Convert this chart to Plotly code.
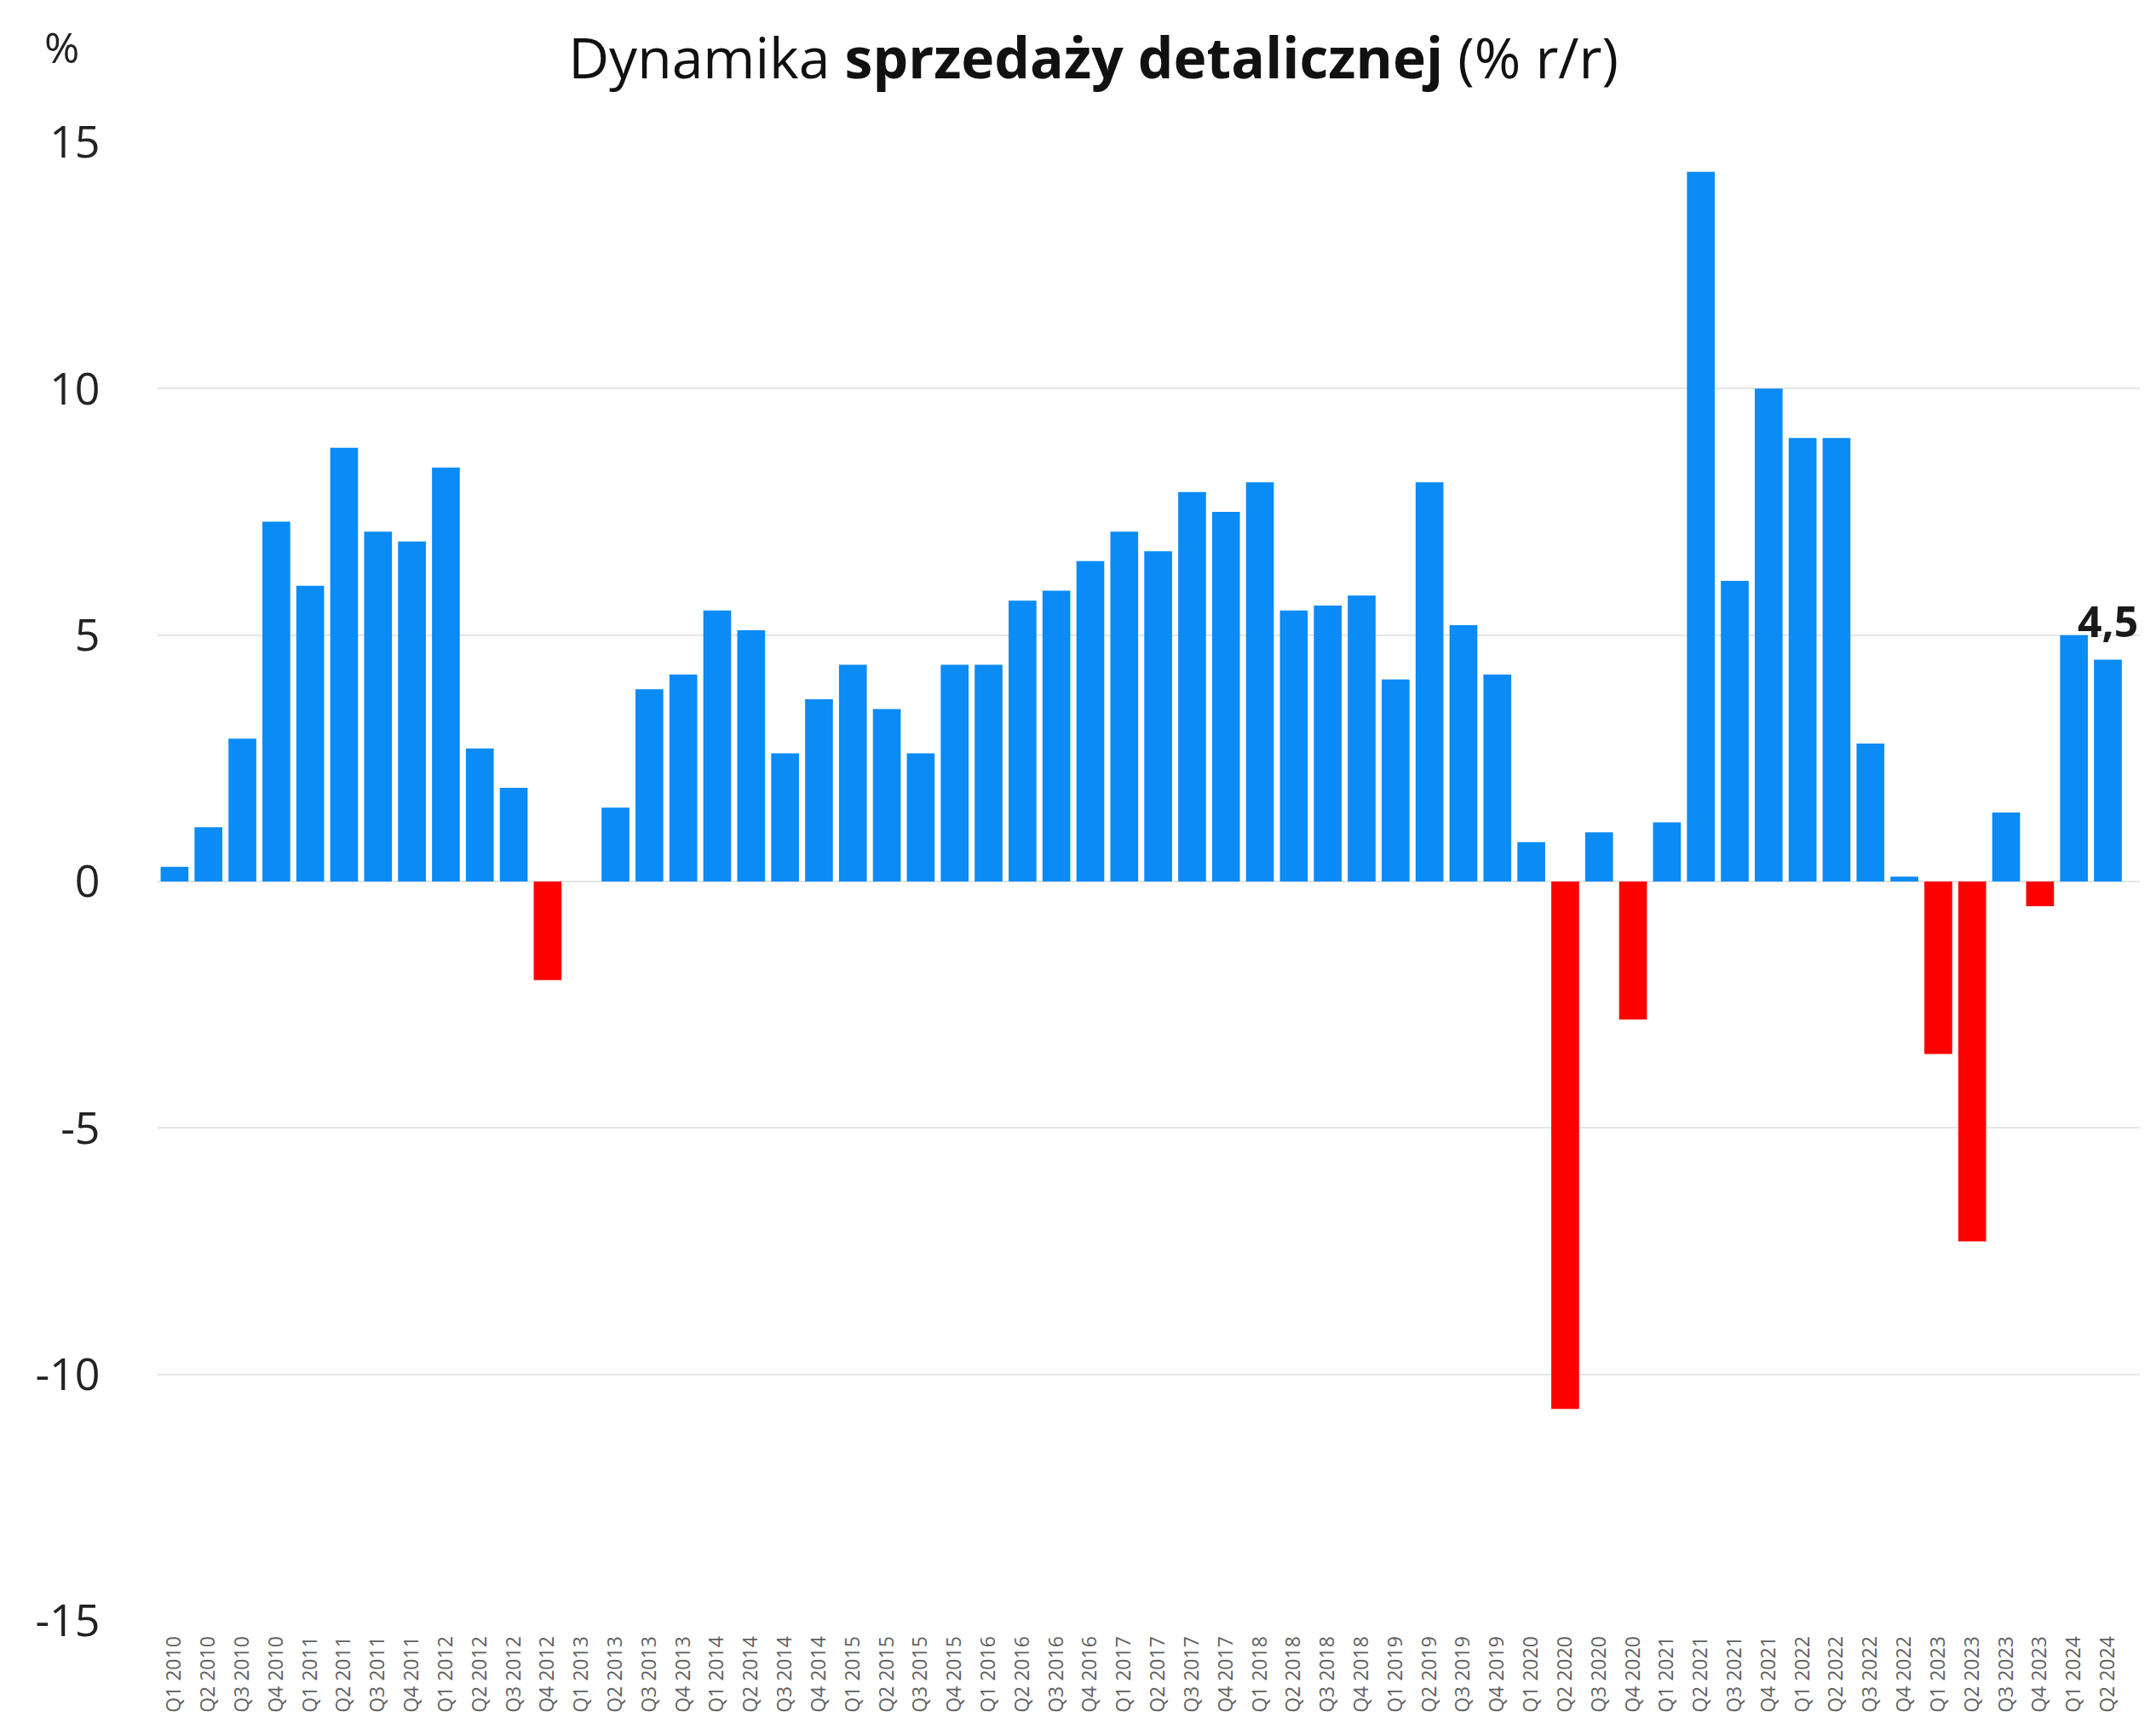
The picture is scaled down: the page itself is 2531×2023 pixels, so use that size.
import plotly.graph_objects as go

quarters = [f"Q{q} {y}" for y in range(2010, 2025) for q in range(1, 5)][:58]
values = [0.3, 1.1, 2.9, 7.3,
          6.0, 8.8, 7.1, 6.9,
          8.4, 2.7, 1.9, -2.0,
          0.0, 1.5, 3.9, 4.2,
          5.5, 5.1, 2.6, 3.7,
          4.4, 3.5, 2.6, 4.4,
          4.4, 5.7, 5.9, 6.5,
          7.1, 6.7, 7.9, 7.5,
          8.1, 5.5, 5.6, 5.8,
          4.1, 8.1, 5.2, 4.2,
          0.8, -10.7, 1.0, -2.8,
          1.2, 14.4, 6.1, 10.0,
          9.0, 9.0, 2.8, 0.1,
          -3.5, -7.3, 1.4, -0.5,
          5.0, 4.5]
y_ticks = [-15, -10, -5, 0, 5, 10, 15]

BLUE = "#0A8BF6"
RED = "#FF0000"
colors = [BLUE if v >= 0 else RED for v in values]

fig = go.Figure()
fig.add_trace(go.Bar(x=quarters, y=values, marker=dict(color=colors, line=dict(width=0)),
                     showlegend=False))

last_val = values[-1]
fig.add_annotation(x=quarters[-1], y=last_val, text=f"<b>{str(last_val).replace('.', ',')}</b>",
                   showarrow=False, yanchor="middle", yshift=46, xshift=0,
                   font=dict(size=50, color="#1a1a1a", family="Open Sans"))

fig.update_layout(
    width=2531, height=2023,
    margin=dict(l=177, r=27, t=159, b=128),
    paper_bgcolor="white", plot_bgcolor="white",
    bargap=0.18,
    font=dict(family="Open Sans", color="#222222"),
    title=dict(text="Dynamika <b>sprzedaży detalicznej</b> (% r/r)",
               x=0.504, xanchor="center", y=0.970, yanchor="middle",
               font=dict(size=66, color="#111111", family="Open Sans")),
    xaxis=dict(type="category", tickangle=-90, tickfont=dict(size=23, color="#606060"),
               showgrid=False, showline=False, ticks="outside", ticklen=8,
               tickcolor="rgba(0,0,0,0)"),
    yaxis=dict(range=[-15, 15], tickvals=y_ticks, ticktext=[str(t) for t in y_ticks],
               tickfont=dict(size=52, color="#222222"),
               showgrid=True, gridcolor="#e6e6e6", gridwidth=2,
               zeroline=False, showline=False,
               ticks="outside", ticklen=56, tickcolor="rgba(0,0,0,0)"),
)
fig.add_annotation(xref="paper", yref="paper", x=-0.0484, y=1.0645, text="%", showarrow=False,
                   xanchor="center", yanchor="middle",
                   font=dict(size=50, color="#222222", family="Open Sans"))

fig.write_html("out.html")
